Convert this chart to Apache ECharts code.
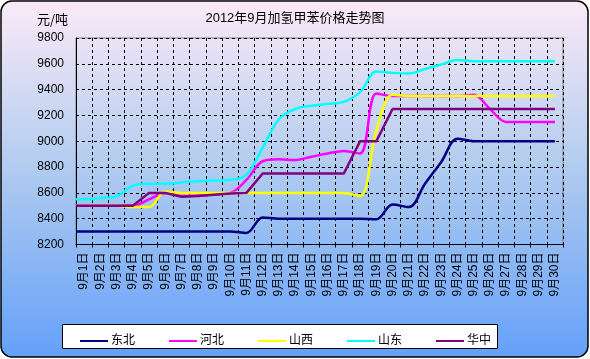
<!DOCTYPE html>
<html><head><meta charset="utf-8">
<script src="https://cdn.jsdelivr.net/npm/echarts@6/dist/echarts.min.js"></script>
<style>html,body{margin:0;padding:0;background:#fff}#c{width:590px;height:359px}</style>
</head><body><div id="c"></div>
<script>
var days = ['9月1日','9月2日','9月3日','9月4日','9月5日','9月6日','9月7日','9月8日','9月9日','9月10日',
 '9月11日','9月12日','9月13日','9月14日','9月15日','9月16日','9月17日','9月18日','9月19日','9月20日',
 '9月21日','9月22日','9月23日','9月24日','9月25日','9月26日','9月27日','9月28日','9月29日','9月30日'];
var seriesNames = ['东北','河北','山西','山东','华中'];
var dongbei = [8300,8300,8300,8300,8300,8300,8300,8300,8300,8300,8290,8410,8400,8400,8400,8400,8400,8400,8395,8510,8490,8670,8840,9020,9000,9000,9000,9000,9000,9000];
var hebei = [8500,8500,8500,8500,8550,8600,8575,8580,8590,8600,8700,8845,8860,8855,8880,8905,8925,8905,9370,9350,9350,9350,9350,9350,9360,9250,9150,9150,9150,9150];
var shanxi = [8500,8500,8500,8490,8490,8610,8600,8600,8600,8600,8600,8600,8600,8600,8600,8600,8600,8575,9080,9360,9350,9350,9350,9350,9350,9350,9350,9350,9350,9350];
var shandong = [8550,8560,8575,8655,8670,8670,8680,8690,8695,8700,8740,8950,9170,9250,9275,9290,9305,9380,9540,9530,9525,9560,9595,9630,9620,9620,9620,9620,9620,9620];
var huazhong = [8500,8500,8500,8500,8600,8600,8570,8575,8585,8595,8600,8750,8750,8750,8750,8750,8750,9000,9000,9250,9250,9250,9250,9250,9250,9250,9250,9250,9250,9250];
var yTicks = {min: 8200, max: 9800, interval: 200};
var titleText = '2012年9月加氢甲苯价格走势图';
var yName = '元/吨';

var FONT = '"Liberation Sans","Noto Sans CJK SC",sans-serif';
function toPts(arr){
  var pts = [[0, arr[0]]];
  arr.forEach(function(v,i){ pts.push([i+0.5, v]); });
  return pts;
}
var colors = ['#000080','#FF00FF','#FFFF00','#00FFFF','#800080'];
var allData = [dongbei, hebei, shanxi, shandong, huazhong];
var smooths = [0.35,0.35,0.35,0.35,false];

var chart = echarts.init(document.getElementById('c'), null, {renderer:'canvas'});
chart.setOption({
  backgroundColor: '#ffffff',
  animation: false,
  textStyle: {fontFamily: FONT},
  graphic: [
    {type:'rect', z:-10, zlevel:0, silent:true,
     shape:{x:1, y:1, width:587, height:356, r:11},
     style:{fill:new echarts.graphic.LinearGradient(0,0,0,1,[
        {offset:0,color:'#FBEAF8'},{offset:0.45,color:'#B3CDEF'},{offset:1,color:'#64A0F9'}]),
        stroke:'#000', lineWidth:1.5}},
    {type:'rect', z:-5, silent:true,
     shape:{x:62.5, y:324.5, width:435, height:24},
     style:{fill:'#ffffff', stroke:'#000', lineWidth:1}},
    {type:'text', left:37, top:13, z:5,
     style:{text:yName, font:'13px "Noto Sans CJK SC",sans-serif', fill:'#000'}}
  ],
  title: {text:titleText, left:'center', top:12, padding:0,
    textStyle:{fontSize:13, fontWeight:'normal', color:'#000', fontFamily:FONT}},
  legend: {
    data: seriesNames, left:75, top:330, itemWidth:28, itemHeight:2, itemGap:34,
    icon:'rect', textStyle:{fontSize:12, color:'#000', padding:[0,0,0,-2]}
  },
  grid: {left:76, right:27, top:38, bottom:114.5, show:true, borderColor:'#808080', borderWidth:1, backgroundColor:'transparent'},
  xAxis: [
    {type:'category', data:days, boundaryGap:true,
     axisLine:{lineStyle:{color:'#000', width:1}},
     axisTick:{show:true, interval:0, length:3, lineStyle:{color:'#000'}},
     axisLabel:{interval:0, rotate:90, fontSize:12, color:'#000', margin:8},
     splitLine:{show:true, interval:0, lineStyle:{color:'#000', type:[3,3], width:1}}},
    {type:'value', min:0, max:30, show:false}
  ],
  yAxis: {type:'value', min:yTicks.min, max:yTicks.max, interval:yTicks.interval,
    axisLine:{show:true, lineStyle:{color:'#000', width:1}},
    axisTick:{show:false},
    axisLabel:{fontSize:12, color:'#000', margin:12, formatter:function(v){return String(v);}},
    splitLine:{show:true, lineStyle:{color:'#000', type:[3,3], width:1}}},
  series: seriesNames.map(function(n,i){
    return {name:n, type:'line', xAxisIndex:1, data:toPts(allData[i]),
      smooth:smooths[i], showSymbol:false, symbol:'none',
      itemStyle:{color:colors[i]},
      lineStyle:{color:colors[i], width:2.5}};
  })
});
</script></body></html>
